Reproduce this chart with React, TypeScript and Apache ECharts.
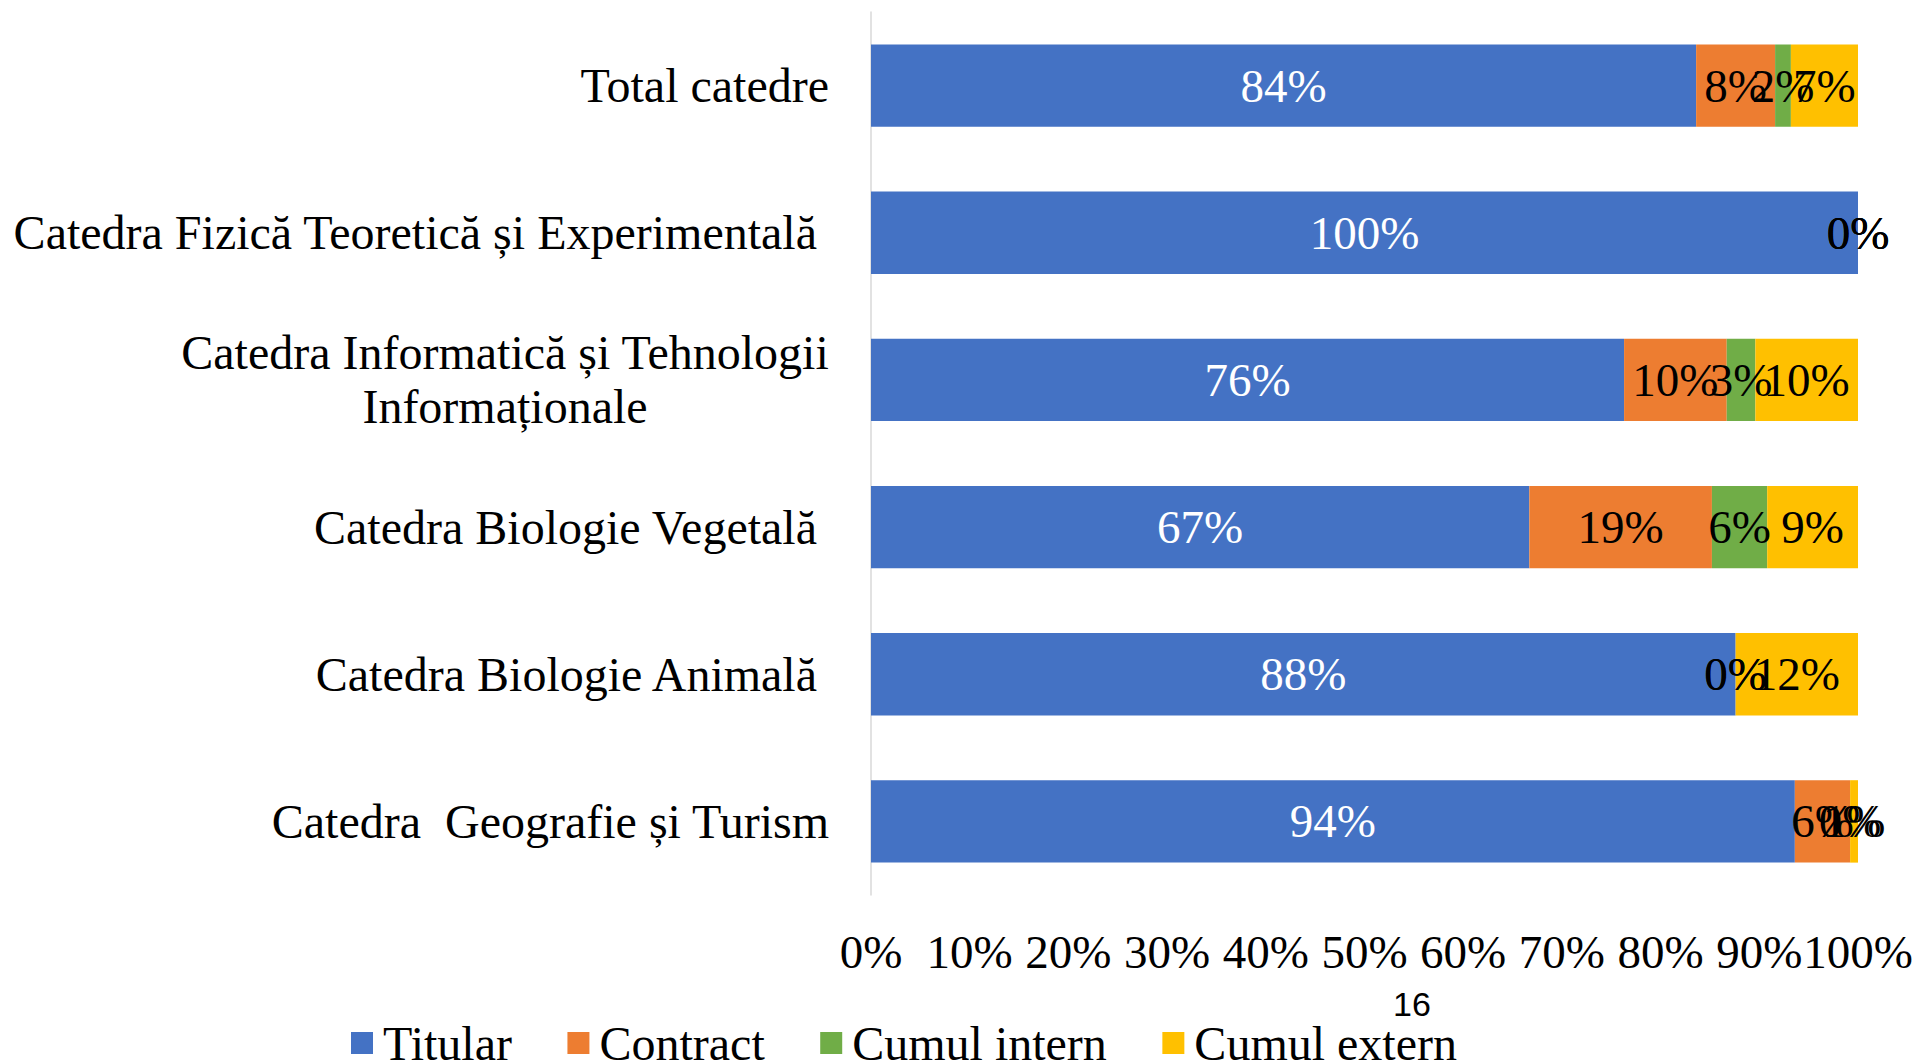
import React, { useEffect, useRef } from "react";
import * as echarts from "echarts";

const categories = [
  "Total catedre",
  "Catedra Fizică Teoretică și Experimentală ",
  "Catedra Informatică și Tehnologii\nInformaționale",
  "Catedra Biologie Vegetală ",
  "Catedra Biologie Animală ",
  "Catedra  Geografie și Turism",
];
const seriesNames = ["Titular", "Contract", "Cumul intern", "Cumul extern"];
const titular = [83.6, 100, 76.3, 66.7, 87.6, 93.6];
const contract = [8.0, 0, 10.4, 18.5, 0, 5.6];
const cumulIntern = [1.6, 0, 2.9, 5.6, 0, 0];
const cumulExtern = [6.8, 0, 10.4, 9.2, 12.4, 0.8];
const xTicks = [0, 10, 20, 30, 40, 50, 60, 70, 80, 90, 100];
const pageNumber = "16";

const colors = ["#4472C4", "#ED7D31", "#70AD47", "#FFC000"];
const labelColors = ["#ffffff", "#000000", "#000000", "#000000"];
const FONT = "'Liberation Serif', 'Times New Roman', serif";
const FS = 47;
const FS_CAT = 48;

export default function App() {
  const ref = useRef<HTMLDivElement>(null);
  useEffect(() => {
    if (!ref.current) return;
    const chart = echarts.init(ref.current, undefined, { renderer: "svg" });
    const values = [titular, contract, cumulIntern, cumulExtern];
    chart.setOption({
      animation: false,
      backgroundColor: "#ffffff",
      grid: { left: 871, right: 60, top: 12, bottom: 165, containLabel: false },
      legend: {
        data: seriesNames,
        left: 346,
        top: 1014,
        icon: "rect",
        itemWidth: 22,
        itemHeight: 22,
        itemGap: 55.5,
        textStyle: { fontSize: FS_CAT, fontFamily: FONT, color: "#000", padding: [0, 0, 0, 5] },
      },
      xAxis: {
        type: "value",
        min: xTicks[0],
        max: xTicks[xTicks.length - 1],
        interval: 10,
        splitLine: { show: false },
        axisLine: { show: false },
        axisTick: { show: false },
        axisLabel: {
          formatter: "{value}%",
          fontSize: FS,
          fontFamily: FONT,
          color: "#000",
          margin: 33,
        },
      },
      yAxis: {
        type: "category",
        inverse: true,
        data: categories,
        axisLine: { show: true, lineStyle: { color: "#d9d9d9", width: 1.5 } },
        axisTick: { show: false },
        axisLabel: {
          fontSize: FS_CAT,
          fontFamily: FONT,
          color: "#000",
          margin: 42,
          lineHeight: 54,
          formatter: (v: string) =>
            v.includes("\n")
              ? v
                  .split("\n")
                  .map((l) => `{w|${l}}`)
                  .join("\n")
              : v,
          rich: {
            w: {
              width: 648,
              align: "center",
              fontSize: FS_CAT,
              fontFamily: FONT,
              color: "#000",
              lineHeight: 54,
            },
          },
        },
      },
      series: seriesNames.map((name, i) => ({
        name,
        type: "bar",
        stack: "total",
        barCategoryGap: "44%",
        data: values[i],
        itemStyle: { color: colors[i] },
        label: {
          show: true,
          position: "inside",
          fontSize: FS,
          fontFamily: FONT,
          color: labelColors[i],
          formatter: (p: any) => Math.round(p.value) + "%",
        },
      })),
      graphic: [
        {
          type: "text",
          left: 1393,
          top: 987,
          style: {
            text: pageNumber,
            fontSize: 34,
            fontFamily: "'Liberation Sans', Arial, sans-serif",
            fill: "#000",
          },
        },
      ],
    });
    return () => chart.dispose();
  }, []);
  return (
    <div
      ref={ref}
      style={{ position: "absolute", left: 0, top: 0, width: 1918, height: 1060 }}
    />
  );
}
